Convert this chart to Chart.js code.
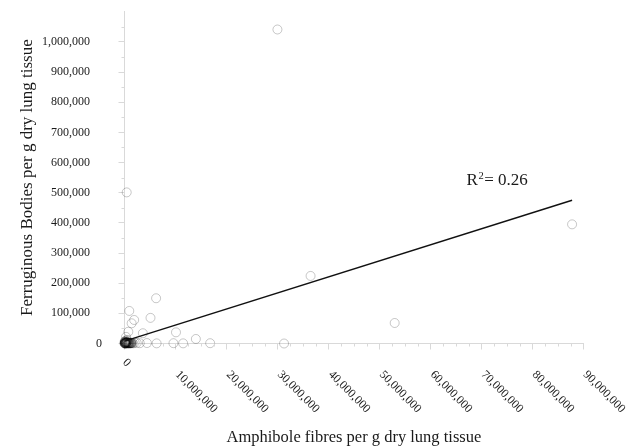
<!DOCTYPE html>
<html>
<head>
<meta charset="utf-8">
<script src="https://cdn.jsdelivr.net/npm/chart.js@4"></script>
<style>
  html, body { margin: 0; padding: 0; background: #fff; }
</style>
</head>
<body>
<canvas id="scatter" width="636" height="448"></canvas>
<script>
// amphibole fibres per g (x) and ferruginous bodies per g (y)
const fibres = [
  30000000, 430000, 87800000, 36500000, 53000000, 31300000,
  6200000, 940000, 1900000, 1400000, 5100000, 750000, 3600000,
  10100000, 14000000, 300000, 2400000, 3000000, 4400000, 6300000,
  9600000, 11500000, 16800000, 2000000,
  0, 50000, 100000, 150000, 200000, 250000, 300000, 350000, 400000,
  450000, 500000, 600000, 700000, 800000, 900000, 1000000, 1100000,
  1200000, 1300000, 1500000, 1700000, 100000, 250000, 500000, 60000, 180000,
  20000, 80000, 120000, 220000, 320000, 420000, 520000, 650000, 750000,
  850000, 950000, 1050000, 1250000, 1400000, 30000, 280000, 550000
];
const bodies = [
  1041000, 501000, 395000, 224000, 68000, 0,
  150000, 108000, 78000, 67000, 85000, 39000, 34000,
  37000, 15000, 22000, 2000, 1000, 1500, 500,
  1000, 500, 1000, 3000,
  0, 500, 1500, 0, 2500, 800, 0, 4000, 1200,
  2000, 300, 3000, 1000, 2200, 500, 1800, 300,
  2500, 800, 1500, 500, 6000, 9000, 12000, 3500, 5000,
  1000, 2000, 3000, 500, 1500, 2500, 4000, 500, 2000,
  1000, 3000, 500, 1500, 2000, 7000, 4500, 6000
];

// linear trendline end points
const trendFibres = [0, 87800000];
const trendBodies = [8000, 475000];
const rSquared = '0.26';
const r2Anchor = [67100000, 539000];

const xTicks = [0, 10000000, 20000000, 30000000, 40000000, 50000000, 60000000, 70000000, 80000000, 90000000];

const gridColor = '#d9d9d9';
const textColor = '#1a1a1a';
const serif = '"Liberation Serif", "Times New Roman", serif';

const fmt = v => v.toLocaleString('en-US');

// minor ticks, rotated x labels and the R² note
const axisExtras = {
  id: 'axisExtras',
  afterDraw(chart) {
    const { ctx, scales: { x, y } } = chart;
    ctx.save();
    ctx.strokeStyle = gridColor;
    ctx.lineWidth = 1;
    ctx.beginPath();
    for (let v = 2500000; v < 90000000; v += 2500000) {
      if (v % 10000000 === 0) continue;
      const px = Math.round(x.getPixelForValue(v)) + 0.5;
      ctx.moveTo(px, x.top);
      ctx.lineTo(px, x.top + 3);
    }
    for (let v = 50000; v < 1100000; v += 50000) {
      if (v % 100000 === 0) continue;
      const py = Math.round(y.getPixelForValue(v)) + 0.5;
      ctx.moveTo(y.right, py);
      ctx.lineTo(y.right - 3, py);
    }
    ctx.stroke();

    ctx.fillStyle = textColor;
    ctx.font = '12px ' + serif;
    ctx.textAlign = 'left';
    ctx.textBaseline = 'top';
    xTicks.forEach(v => {
      const label = fmt(v);
      const w = ctx.measureText(label).width;
      const px = x.getPixelForValue(v);
      ctx.save();
      ctx.translate(px + 4.1 + 0.035 * w, x.top + 11.4 + 0.252 * w);
      ctx.rotate(Math.PI / 4);
      ctx.fillText(label, 0, 0);
      ctx.restore();
    });

    // R² = 0.26
    let tx = x.getPixelForValue(r2Anchor[0]);
    const ty = y.getPixelForValue(r2Anchor[1]);
    ctx.textBaseline = 'middle';
    ctx.font = '17px ' + serif;
    ctx.fillText('R', tx, ty);
    tx += ctx.measureText('R').width + 0.5;
    ctx.font = '10.5px ' + serif;
    ctx.fillText('2', tx, ty - 5);
    tx += ctx.measureText('2').width + 0.5;
    ctx.font = '17px ' + serif;
    ctx.fillText('= ' + rSquared, tx, ty);
    ctx.restore();
  }
};

const points = fibres.map((f, i) => ({ x: f, y: bodies[i] }));
const trend = trendFibres.map((f, i) => ({ x: f, y: trendBodies[i] }));

new Chart(document.getElementById('scatter').getContext('2d'), {
  type: 'scatter',
  data: {
    datasets: [
      {
        data: trend,
        showLine: true,
        borderColor: '#111',
        borderWidth: 1.4,
        pointRadius: 0,
        order: 0,
      },
      {
        data: points,
        pointRadius: 4.5,
        pointBorderWidth: 1,
        pointBorderColor: 'rgba(0,0,0,0.22)',
        pointBackgroundColor: 'rgba(0,0,0,0)',
        clip: false,
        order: 1,
      },
    ],
  },
  options: {
    responsive: false,
    animation: false,
    events: [],
    layout: {
      autoPadding: false,
      padding: { top: 11.7, right: 52.7, bottom: 0, left: 0 },
    },
    plugins: {
      legend: { display: false },
      tooltip: { enabled: false },
    },
    scales: {
      x: {
        type: 'linear',
        min: 0,
        max: 90000000,
        ticks: { display: false, stepSize: 10000000 },
        grid: { drawOnChartArea: false, drawTicks: true, tickLength: 6, color: gridColor },
        border: { color: gridColor },
        title: {
          display: true,
          text: 'Amphibole fibres per g dry lung tissue',
          color: textColor,
          font: { family: serif, size: 16.5 },
          padding: { top: 0, bottom: 0 },
        },
        afterFit: scale => {
          scale.height = 104.5;
          scale.paddingLeft = 0;
          scale.paddingRight = 0;
        },
      },
      y: {
        type: 'linear',
        min: 0,
        max: 1100000,
        ticks: {
          stepSize: 100000,
          padding: 16.5,
          color: textColor,
          font: { family: serif, size: 12 },
          callback: v => v > 1000000 ? '' : (v === 0 ? '0' : fmt(v) + '    '),
        },
        grid: {
          drawOnChartArea: false,
          drawTicks: true,
          tickLength: 6,
          color: gridColor,
          tickColor: c => (c.tick && c.tick.value > 1000000) ? 'rgba(0,0,0,0)' : gridColor,
        },
        border: { color: gridColor },
        title: {
          display: true,
          text: 'Ferruginous Bodies per g dry lung tissue',
          color: textColor,
          font: { family: serif, size: 17 },
          padding: { top: 17.4, bottom: 0 },
        },
        afterFit: scale => {
          scale.width = 124.5;
          scale.paddingTop = 0;
          scale.paddingBottom = 0;
        },
      },
    },
  },
  plugins: [axisExtras],
});
</script>
</body>
</html>
